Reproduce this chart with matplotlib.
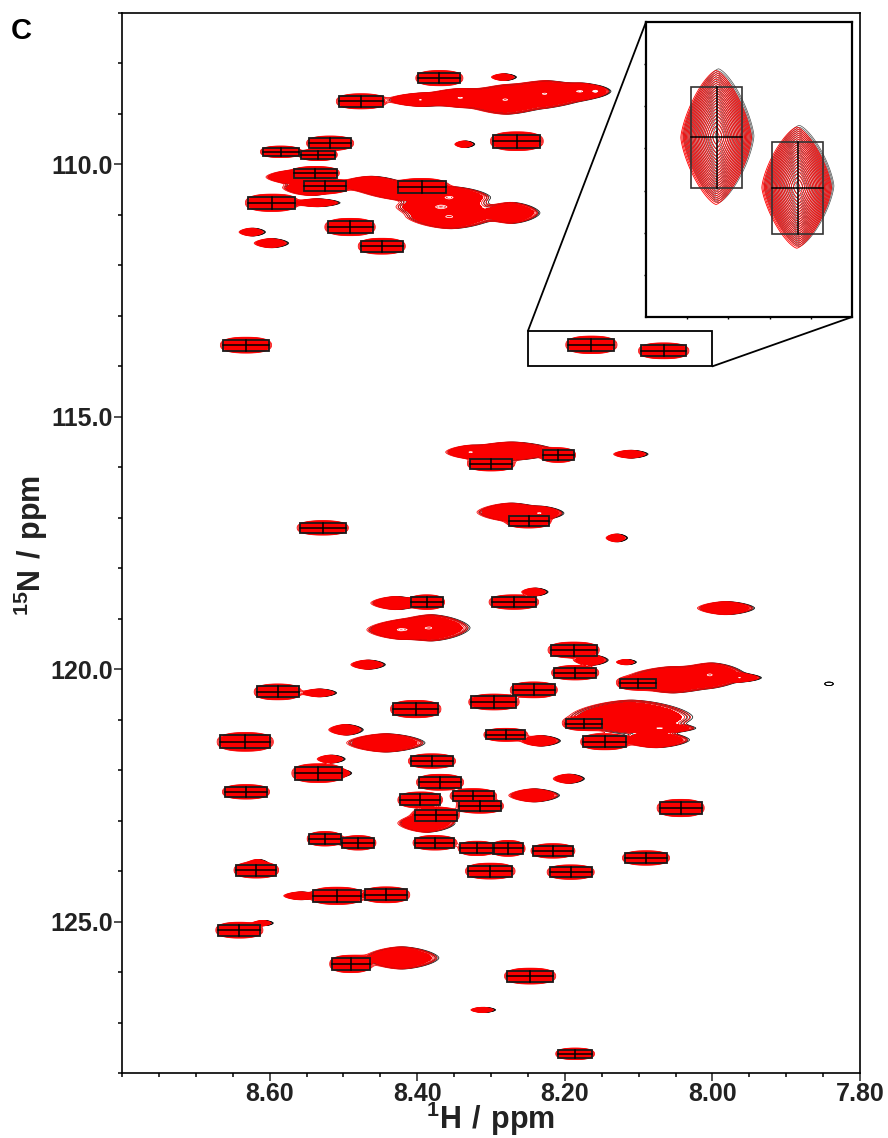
import numpy as np
import matplotlib
matplotlib.use("Agg")
import matplotlib.pyplot as plt
from matplotlib.patches import Rectangle, ConnectionPatch

plt.rcParams['font.family'] = ['Liberation Sans', 'DejaVu Sans']
plt.rcParams['font.weight'] = 'bold'
plt.rcParams['mathtext.fontset'] = 'custom'
plt.rcParams['mathtext.bf'] = 'Liberation Sans:bold'
plt.rcParams['mathtext.rm'] = 'Liberation Sans:bold'

# picked peaks: 1H, 15N (ppm) and box size
peak_h = [8.370, 8.476, 8.265, 8.518, 8.585, 8.534, 8.538, 8.525, 8.394, 8.597,
          8.491, 8.448, 8.632, 8.164, 8.066, 8.209, 8.300, 8.249, 8.528, 8.269,
          8.387, 8.188, 8.186, 8.101, 8.242, 8.589, 8.296, 8.402, 8.174, 8.280,
          8.146, 8.633, 8.380, 8.534, 8.369, 8.632, 8.324, 8.396, 8.315, 8.043,
          8.375, 8.525, 8.480, 8.376, 8.319, 8.277, 8.216, 8.090, 8.618, 8.301,
          8.192, 8.509, 8.442, 8.641, 8.490, 8.247, 8.186]
peak_n = [108.29, 108.75, 109.54, 109.58, 109.75, 109.81, 110.17, 110.43, 110.45, 110.76,
          111.24, 111.62, 113.58, 113.574, 113.693, 115.76, 115.93, 117.06, 117.20, 118.67,
          118.67, 119.62, 120.07, 120.28, 120.41, 120.45, 120.65, 120.79, 121.08, 121.30,
          121.44, 121.44, 121.82, 122.06, 122.24, 122.43, 122.51, 122.59, 122.71, 122.75,
          122.89, 123.36, 123.44, 123.44, 123.55, 123.55, 123.60, 123.74, 123.98, 124.00,
          124.02, 124.49, 124.47, 125.17, 125.84, 126.08, 127.62]
box_w = [.057, .060, .064, .057, .049, .046, .058, .057, .065, .064,
         .061, .057, .062, .062, .061, .042, .057, .054, .062, .060,
         .043, .062, .057, .049, .057, .057, .061, .061, .050, .053,
         .058, .068, .057, .064, .057, .057, .056, .054, .057, .057,
         .057, .043, .043, .053, .045, .041, .053, .057, .054, .060,
         .057, .065, .057, .057, .051, .062, .047]
box_h = [.208, .208, .258, .198, .158, .158, .178, .198, .238, .238,
         .238, .218, .218, .241, .218, .198, .198, .198, .198, .198,
         .198, .218, .198, .178, .218, .218, .218, .238, .178, .178,
         .218, .258, .198, .258, .218, .198, .198, .218, .198, .238,
         .218, .198, .198, .198, .198, .218, .198, .198, .218, .218,
         .198, .238, .218, .218, .238, .218, .158]

# signals with no box: 1H, 15N and outer half widths (ppm)
blob_h = [8.396, 8.342, 8.281, 8.227, 8.179, 8.158, 8.284, 8.337, 8.572, 8.545,
          8.464, 8.417, 8.356, 8.369, 8.356, 8.274, 8.537, 8.625, 8.599,
          8.274, 8.328, 8.112, 8.274, 8.234, 8.131, 8.430, 8.242, 7.983,
          8.423, 8.383, 8.468, 8.118, 8.166, 8.055, 8.003, 7.963, 8.534,
          8.112, 8.071, 8.234, 8.078, 8.498, 8.444, 8.518, 8.507, 8.196,
          8.243, 8.389, 8.610, 8.617, 8.559, 8.423, 8.312]
blob_n = [108.72, 108.68, 108.72, 108.60, 108.55, 108.55, 108.27, 109.60, 110.25, 110.46,
          110.39, 110.55, 110.65, 110.84, 111.04, 110.96, 110.76, 111.34, 111.56,
          115.68, 115.70, 115.74, 116.89, 116.91, 117.40, 118.69, 118.47, 118.79,
          119.22, 119.18, 119.91, 119.86, 119.82, 120.21, 120.11, 120.17, 120.47,
          120.95, 121.17, 121.42, 121.40, 121.20, 121.46, 121.78, 122.06, 122.17,
          122.50, 123.05, 125.03, 123.86, 124.49, 125.72, 126.75]
blob_dh = [.041, .047, .054, .054, .034, .011, .014, .011, .030, .034,
           .038, .047, .047, .054, .051, .034, .027, .015, .020,
           .054, .030, .020, .041, .027, .012, .030, .015, .034,
           .041, .047, .020, .011, .020, .060, .040, .024, .020,
           .075, .040, .023, .040, .020, .047, .016, .014, .018,
           .030, .034, .011, .012, .020, .045, .014]
blob_dn = [.10, .14, .22, .20, .12, .06, .05, .05, .10, .12,
           .12, .12, .16, .18, .18, .16, .06, .06, .07,
           .14, .10, .06, .14, .10, .06, .10, .06, .10,
           .14, .20, .07, .04, .08, .20, .18, .06, .06,
           .26, .07, .08, .12, .08, .14, .06, .06, .07,
           .10, .14, .04, .07, .06, .17, .04]

# faint signal that only the black spectrum shows
black_h = [7.845]
black_n = [120.29]
black_dh = [.006]
black_dn = [.035]

x_major = [8.60, 8.40, 8.20, 8.00, 7.80]
y_major = [110.0, 115.0, 120.0, 125.0]


def lobe(xx, yy, h, n, a, b, p):
    return np.exp(-3.0 * (np.abs((xx - h) / a) ** p + np.abs((yy - n) / b) ** p))


def peak_field(xx, yy, pw, ph, pp):
    z = np.zeros_like(xx)
    for h, n, w, t in zip(peak_h, peak_n, box_w, box_h):
        z += lobe(xx, yy, h, n, w * pw, t * ph, pp)
    return z


def blob_field(xx, yy):
    z = np.zeros_like(xx)
    for h, n, a, b in zip(blob_h, blob_n, blob_dh, blob_dn):
        z += lobe(xx, yy, h, n, a * 1.1, b * 1.3, 1.6)
    return z


main_levels = 0.05 * 1.25 ** np.arange(5)
zoom_levels = 0.05 * 1.14 ** np.arange(24)
streak_levels = [1.02, 1.08, 1.2, 1.35, 1.5]

fig = plt.figure(figsize=(8.88, 11.38), dpi=100)
ax = fig.add_axes([122 / 888, 1 - 1073 / 1138, 738 / 888, 1060 / 1138])

xx, yy = np.meshgrid(np.linspace(7.8, 8.8, 1300), np.linspace(107, 128, 2100))
z_peaks = peak_field(xx, yy, 0.56, 0.72, 2.4)
z_blobs = blob_field(xx, yy)
z = z_peaks + z_blobs
z_black = z_blobs.copy()
for h, n, a, b in zip(black_h, black_n, black_dh, black_dn):
    z_black += lobe(xx, yy, h, n, a, b, 2.0)
ax.contour(xx - 0.003, yy, z_black, levels=main_levels[:3], colors='black', linewidths=0.5, zorder=1.0)
ax.contour(xx, yy, z, levels=main_levels, colors='#fa0000', linewidths=0.55, zorder=1.1)
# contour lines merge into solid red inside the signals
ax.contourf(xx, yy, z, levels=[0.1, 100], colors='#fa0000', zorder=1.2)
# gaps left between the merged contours of overlapping signals
ax.contour(xx, yy, z_blobs, levels=streak_levels, colors='white', linewidths=0.55, zorder=1.3)
ax.contourf(xx, yy, z_peaks, levels=[0.1, 100], colors='#fa0000', zorder=1.4)

for h, n, w, t in zip(peak_h, peak_n, box_w, box_h):
    ax.add_patch(Rectangle((h - w / 2, n - t / 2), w, t, fill=False, ec='#1a1a1a', lw=1.3, zorder=5))
    ax.plot([h, h], [n - t / 2, n + t / 2], color='black', lw=1.1, zorder=5)
    ax.plot([h - w / 2, h + w / 2], [n, n], color='black', lw=1.1, zorder=5)

ax.set_xlim(8.8, 7.8)
ax.set_ylim(128, 107)
ax.set_xticks(x_major)
ax.set_xticklabels(['%.2f' % v for v in x_major])
ax.set_yticks(y_major)
ax.set_yticklabels(['%.1f' % v for v in y_major])
ax.set_xticks(np.arange(7.8, 8.8, 0.05), minor=True)
ax.set_yticks(np.arange(107, 129, 1.0), minor=True)
ax.tick_params(which='major', length=5.5, width=1.1, labelsize=18, pad=1, colors='#222222')
ax.tick_params(which='minor', length=3, width=1.1)
for s in ax.spines.values():
    s.set_linewidth(1.2)
fig.text(491 / 888, 1 - 1119 / 1138, r'$\mathbf{^{1}H\ /\ ppm}$', fontsize=22,
         ha='center', va='center', color='#222222')
fig.text(31 / 888, 1 - 545 / 1138, r'$\mathbf{^{15}N\ /\ ppm}$', fontsize=22,
         ha='center', va='center', rotation=90, color='#222222')

# zoom window
zoom_h = (8.25, 8.00)
zoom_n = (114.0, 113.3)
ax.add_patch(Rectangle((zoom_h[1], zoom_n[1]), zoom_h[0] - zoom_h[1], zoom_n[0] - zoom_n[1],
                       fill=False, ec='black', lw=1.3, zorder=6))

ins = fig.add_axes([646 / 888, 1 - 317 / 1138, 206 / 888, 295 / 1138])
xx2, yy2 = np.meshgrid(np.linspace(zoom_h[1], zoom_h[0], 500), np.linspace(zoom_n[1], zoom_n[0], 500))
z2 = peak_field(xx2, yy2, 0.69, 0.66, 1.4)
ins.contour(xx2 - 0.002, yy2 - 0.004, z2, levels=zoom_levels, colors='#222222', linewidths=0.5, alpha=0.8)
ins.contour(xx2 + 0.001, yy2, z2, levels=zoom_levels, colors='#ff0000', linewidths=0.6)
for h, n, w, t in zip(peak_h[13:15], peak_n[13:15], box_w[13:15], box_h[13:15]):
    ins.add_patch(Rectangle((h - w / 2, n - t / 2), w, t, fill=False, ec='#333333', lw=1.2, zorder=5))
    ins.plot([h, h], [n - t / 2, n + t / 2], color='black', lw=1.1, zorder=5)
    ins.plot([h - w / 2, h + w / 2], [n, n], color='black', lw=1.1, zorder=5)
ins.set_xlim(*zoom_h)
ins.set_ylim(*zoom_n)
ins.set_xticks(np.arange(8.05, 8.25, 0.05))
ins.set_yticks(np.arange(113.4, 114.0, 0.1))
ins.set_xticklabels([])
ins.set_yticklabels([])
ins.tick_params(length=1.5, width=1)
for s in ins.spines.values():
    s.set_linewidth(1.6)

fig.add_artist(ConnectionPatch((zoom_h[0], zoom_n[1]), (0, 1), 'data', 'axes fraction',
                               axesA=ax, axesB=ins, color='black', lw=1.3))
fig.add_artist(ConnectionPatch((zoom_h[1], zoom_n[0]), (1, 0), 'data', 'axes fraction',
                               axesA=ax, axesB=ins, color='black', lw=1.3))

fig.text(11 / 888, 1 - 31 / 1138, 'C', fontsize=21, fontweight='bold', va='center', color='black')

fig.savefig('out.png', dpi=100)
